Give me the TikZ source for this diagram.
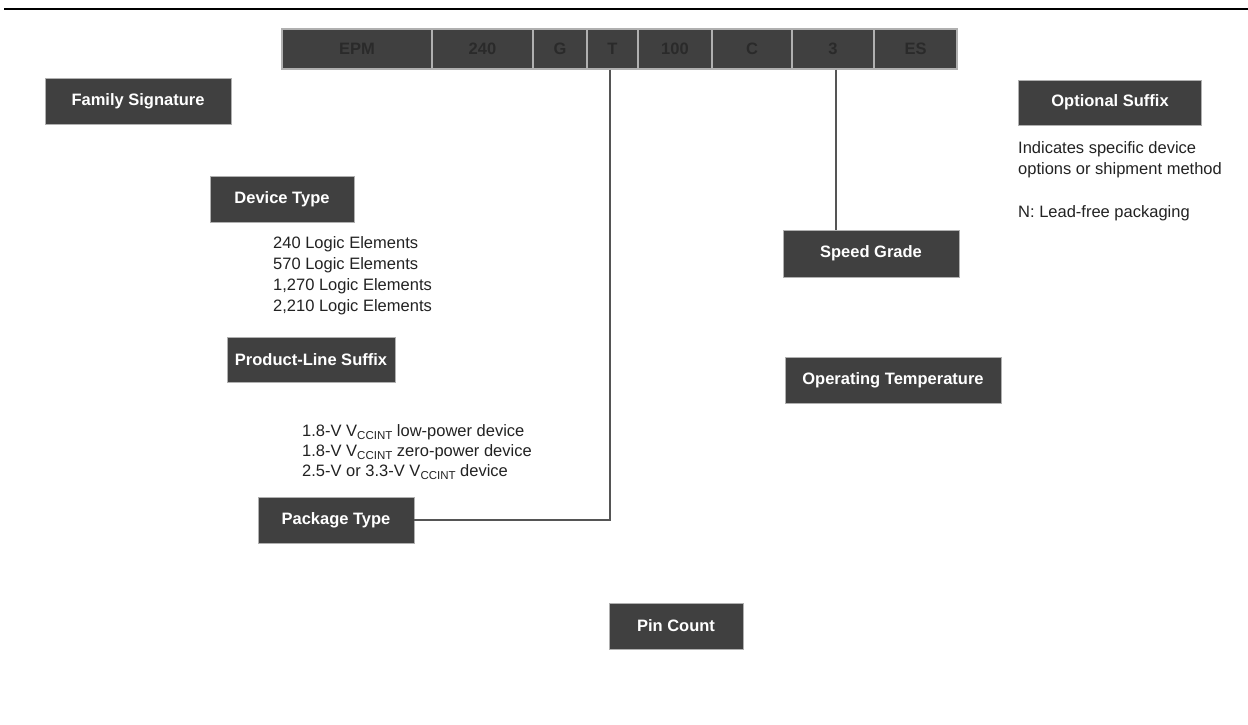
\documentclass[tikz,border=0pt]{standalone}
\usepackage{fontspec}
\setmainfont{Liberation Sans}
\definecolor{boxgray}{HTML}{404040}
\definecolor{boxedge}{HTML}{B0B0B0}
\definecolor{celltext}{HTML}{2A2A2A}
\definecolor{bodytext}{HTML}{222222}
\definecolor{linegray}{HTML}{555555}
\newcommand\vccint{V\raisebox{-3.5pt}{\fontsize{11.5}{12}\selectfont CCINT}}
\tikzset{
  labelbox/.style={fill=boxgray, draw=boxedge, line width=0.8pt, text=white, inner sep=0pt,
    font=\fontsize{16.5}{20}\selectfont\bfseries},
  codecell/.style={fill=boxgray, draw=boxedge, line width=1.5pt, text=celltext, inner sep=0pt,
    minimum height=40pt, font=\fontsize{16.5}{20}\selectfont\bfseries},
  bodytxt/.style={anchor=north west, inner sep=0pt, align=left, text=bodytext,
    font=\fontsize{16.5}{21}\selectfont},
  conn/.style={draw=linegray, line width=1.8pt}
}
\begin{document}
\begin{tikzpicture}[x=1pt,y=-1pt]
\useasboundingbox (0,0) rectangle (1248,725);
% top rule
\coordinate (ruleL) at (4,9);
\coordinate (ruleR) at (1248,9);
\draw[line width=2pt, black] (ruleL) -- (ruleR);
% code bar
\node[codecell, minimum width=150pt] (cEPM) at (357,49) {EPM};
\node[codecell, minimum width=101pt] (c240) at (482.5,49) {240};
\node[codecell, minimum width=54pt] (cG) at (560,49) {G};
\node[codecell, minimum width=51pt] (cT) at (612.5,49) {T};
\node[codecell, minimum width=74pt] (c100) at (675,49) {100};
\node[codecell, minimum width=80pt] (cC) at (752,49) {C};
\node[codecell, minimum width=82pt] (c3) at (833,49) {3};
\node[codecell, minimum width=83pt] (cES) at (915.5,49) {ES};
% label boxes
\node[labelbox, minimum width=186pt, minimum height=46pt] (fam) at (138,101) {Family Signature};
\node[labelbox, minimum width=144pt, minimum height=46pt] (dev) at (282,199) {Device Type};
\node[labelbox, minimum width=168pt, minimum height=45pt] (pls) at (311,359.5) {Product-Line Suffix};
\node[labelbox, minimum width=156pt, minimum height=46pt] (pkg) at (336,520) {Package Type};
\node[labelbox, minimum width=134pt, minimum height=46pt] (pin) at (676,626) {Pin Count};
\node[labelbox, minimum width=183pt, minimum height=45pt] (opt) at (1110,102.5) {Optional Suffix};
\node[labelbox, minimum width=176pt, minimum height=47pt] (spd) at (871,253.5) {Speed Grade};
\node[labelbox, minimum width=216pt, minimum height=46pt] (tmp) at (893,380) {Operating Temperature};
% texts
\node[bodytxt] (le) at (273,236) {240 Logic Elements\\570 Logic Elements\\1,270 Logic Elements\\2,210 Logic Elements};
\node[bodytxt, font=\fontsize{16.5}{20}\selectfont] (vcc) at (302,424) {1.8-V \vccint{} low-power device\\1.8-V \vccint{} zero-power device\\2.5-V or 3.3-V \vccint{} device};
\node[bodytxt] (optd) at (1018,141) {Indicates specific device\\options or shipment method};
\node[bodytxt] (optn) at (1018,205) {N: Lead-free packaging};
% connectors
\coordinate (tdrop) at ([xshift=-2.5pt]cT.south);
\coordinate (sdrop) at ([xshift=3pt]c3.south);
\draw[conn] (tdrop) -- (tdrop |- pkg.east) -- (pkg.east);
\draw[conn] (sdrop) -- (sdrop |- spd.north);
\end{tikzpicture}
\end{document}
